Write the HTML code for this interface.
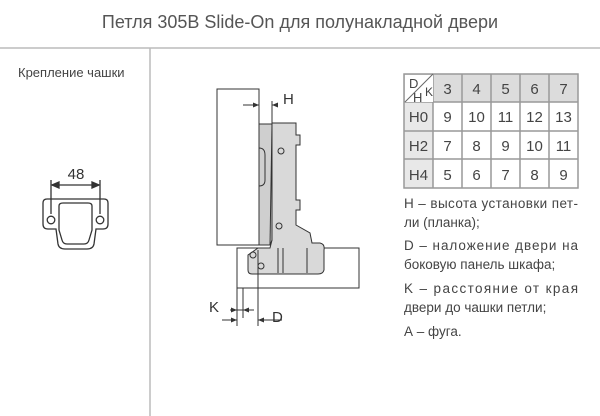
<!DOCTYPE html>
<html><head><meta charset="utf-8"><style>
html,body{margin:0;padding:0;background:#fff;}
svg{display:block;font-family:"Liberation Sans","DejaVu Sans",sans-serif;}
</style></head><body>
<svg width="600" height="416" viewBox="0 0 600 416" xmlns="http://www.w3.org/2000/svg">
<text x="300" y="28" text-anchor="middle" font-size="18" fill="#555">Петля 305B Slide-On для полунакладной двери</text>
<line x1="0" y1="48" x2="600" y2="48" stroke="#bbb" stroke-width="1.5"/>
<line x1="150" y1="48" x2="150" y2="416" stroke="#bbb" stroke-width="1.5"/>
<text x="18" y="77" font-size="13" fill="#444">Крепление чашки</text>

<!-- cup mount -->
<g fill="none" stroke="#333" stroke-width="1.3">
<line x1="51" y1="180" x2="51" y2="214"/>
<line x1="100" y1="180" x2="100" y2="214"/>
<line x1="52" y1="185" x2="99" y2="185"/>
<path d="M52 185 l7 -3 v6 z M99 185 l-7 -3 v6 z" fill="#333"/>
<path d="M47 199 H104 Q108 199 108 203 V224 Q108 229 103 229 H96 L94 244 Q93 249 87 249 H65 Q59 249 58 244 L56 229 H48 Q43 229 43 224 V203 Q43 199 47 199 Z"/>
<path d="M59 206 Q59 203 63 203 H88 Q92 203 92 206 V230 L89 240 Q88 244 84 244 H67 Q63 244 62 240 L59 230 Z"/>
<circle cx="51" cy="220" r="3.8"/>
<circle cx="100" cy="220" r="3.8"/>
</g>
<text x="76" y="179" text-anchor="middle" font-size="15" fill="#333">48</text>

<!-- hinge drawing -->
<g stroke="#333" stroke-width="1" fill="none">
<rect x="217" y="89" width="42" height="156" fill="#fff"/>
<rect x="237" y="248" width="122" height="40" fill="#fff"/>
<path d="M259 124 H272 V123 H296 V135 H300 V145 H296 V200 H300 V210 H296 V225 L310 233 L312 243 H320 Q325 244 324 250 V270 Q323 274 318 274 H252 Q248 274 248 270 V255 L258 248 H270 L272 240 V124 Z" fill="#d9d9d9"/>
<path d="M259 124 H272 V240 L270 245 H259 Z" fill="#cfcfcf"/>
<path d="M259 148 Q265 148 265 155 V180 Q265 186 259 186" />
<line x1="272" y1="124" x2="270" y2="245"/>
<line x1="278" y1="248" x2="278" y2="273"/>
<line x1="283" y1="248" x2="283" y2="273"/>
<line x1="307" y1="248" x2="307" y2="273"/>
<circle cx="281" cy="151" r="3"/>
<circle cx="279" cy="226" r="3"/>
<circle cx="253" cy="255" r="3"/>
<circle cx="261" cy="266" r="3"/>
<line x1="272" y1="101" x2="272" y2="123"/>
<line x1="243" y1="105" x2="259" y2="105"/>
<line x1="272" y1="105" x2="277" y2="105"/>
<line x1="237" y1="288" x2="237" y2="326"/>
<line x1="243" y1="288" x2="243" y2="318"/>
<line x1="258" y1="250" x2="258" y2="326"/>
<line x1="230" y1="310" x2="254" y2="310"/>
<line x1="222" y1="320" x2="237" y2="320"/>
<line x1="258" y1="320" x2="282" y2="320"/>
</g>
<g fill="#333">
<path d="M259 105 l-6 -2.5 v5 z M272 105 l6 -2.5 v5 z"/>
<path d="M237 310 l-6 -2.5 v5 z M243 310 l6 -2.5 v5 z"/>
<path d="M237 320 l-6 -2.5 v5 z M258 320 l6 -2.5 v5 z"/>
</g>
<text x="283" y="104" font-size="15" fill="#333">H</text>
<text x="209" y="312" font-size="15" fill="#333">K</text>
<text x="272" y="322" font-size="15" fill="#333">D</text>

<!-- table -->
<g font-size="15" fill="#444" text-anchor="middle">
<rect x="404" y="74" width="174" height="28" fill="#dcdcdc"/>
<rect x="404" y="102" width="29" height="86" fill="#e8e8e8"/>
<rect x="433" y="102" width="145" height="86" fill="#fff"/>
<g stroke="#999" stroke-width="1.5" fill="none">
<rect x="404" y="74" width="174" height="114"/>
<line x1="404" y1="102" x2="578" y2="102"/>
<line x1="404" y1="131" x2="578" y2="131"/>
<line x1="404" y1="159" x2="578" y2="159"/>
<line x1="433" y1="74" x2="433" y2="188"/>
<line x1="462" y1="74" x2="462" y2="188"/>
<line x1="491" y1="74" x2="491" y2="188"/>
<line x1="520" y1="74" x2="520" y2="188"/>
<line x1="549" y1="74" x2="549" y2="188"/>
</g>
<rect x="405" y="75" width="28" height="27" fill="#fff"/>
<line x1="405" y1="102" x2="433" y2="74" stroke="#666" stroke-width="1"/>
<text x="409" y="88" font-size="13" text-anchor="start">D</text>
<text x="425" y="96" font-size="12" text-anchor="start">K</text>
<text x="413" y="102" font-size="13" text-anchor="start">H</text>
<text x="447.5" y="94">3</text><text x="476.5" y="94">4</text><text x="505.5" y="94">5</text><text x="534.5" y="94">6</text><text x="563.5" y="94">7</text>
<text x="418.5" y="122">H0</text><text x="447.5" y="122">9</text><text x="476.5" y="122">10</text><text x="505.5" y="122">11</text><text x="534.5" y="122">12</text><text x="563.5" y="122">13</text>
<text x="418.5" y="151">H2</text><text x="447.5" y="151">7</text><text x="476.5" y="151">8</text><text x="505.5" y="151">9</text><text x="534.5" y="151">10</text><text x="563.5" y="151">11</text>
<text x="418.5" y="180">H4</text><text x="447.5" y="180">5</text><text x="476.5" y="180">6</text><text x="505.5" y="180">7</text><text x="534.5" y="180">8</text><text x="563.5" y="180">9</text>
</g>

<g font-size="13.5" fill="#444">
<text x="404" y="208" textLength="174" lengthAdjust="spacing">H – высота установки пет-</text>
<text x="404" y="227">ли (планка);</text>
<text x="404" y="250" textLength="174" lengthAdjust="spacing">D – наложение двери на</text>
<text x="404" y="269">боковую панель шкафа;</text>
<text x="404" y="293" textLength="174" lengthAdjust="spacing">K – расстояние от края</text>
<text x="404" y="312">двери до чашки петли;</text>
<text x="404" y="336">А – фуга.</text>
</g>
</svg>
</body></html>
